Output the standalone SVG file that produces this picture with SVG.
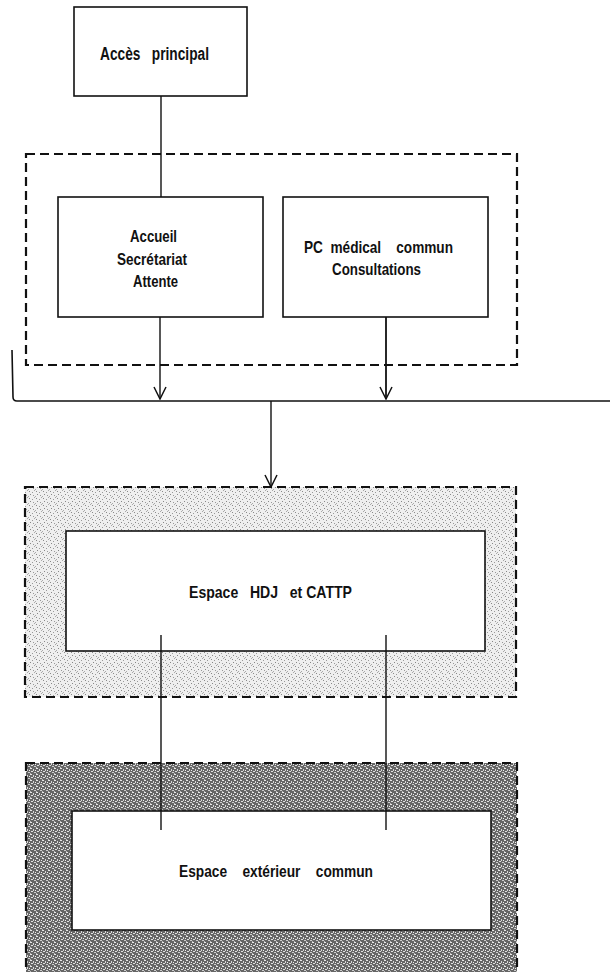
<svg xmlns="http://www.w3.org/2000/svg" width="610" height="972" viewBox="0 0 610 972">
  <style>
    .box { fill: #ffffff; stroke: #111; stroke-width: 1.6; }
    .dash { stroke: #111; stroke-width: 2.2; stroke-dasharray: 9 5; }
    .lbl { font-family: "Liberation Sans", Arial, sans-serif; font-size: 17px; font-weight: bold; fill: #111; text-anchor: middle; white-space: pre; }
    .con { fill: none; stroke: #111; stroke-width: 1.4; }
  </style>
  <defs>
    <marker id="arr" viewBox="0 0 14 14" refX="13" refY="7" markerWidth="14" markerHeight="14" markerUnits="userSpaceOnUse" orient="auto">
      <path d="M1,1 L13,7 L1,13" fill="none" stroke="#111" stroke-width="1.5"/>
    </marker>
    <pattern id="light" width="7" height="7" patternUnits="userSpaceOnUse">
      <rect width="7" height="7" fill="#efefef"/>
      <rect x="1" y="1" width="1" height="1" fill="#8a8a8a"/>
      <rect x="4" y="2" width="1" height="1" fill="#9a9a9a"/>
      <rect x="2" y="4" width="1" height="1" fill="#888"/>
      <rect x="5" y="5" width="1" height="1" fill="#999"/>
      <rect x="6" y="0" width="1" height="1" fill="#aaa"/>
      <rect x="0" y="6" width="1" height="1" fill="#aaa"/>
    </pattern>
    <pattern id="dark" width="6" height="6" patternUnits="userSpaceOnUse">
      <rect width="6" height="6" fill="#666"/>
      <rect x="0" y="0" width="2" height="1" fill="#e8e8e8"/>
      <rect x="3" y="1" width="1" height="2" fill="#d8d8d8"/>
      <rect x="1" y="3" width="2" height="1" fill="#e0e0e0"/>
      <rect x="4" y="4" width="2" height="1" fill="#cfcfcf"/>
      <rect x="5" y="2" width="1" height="1" fill="#f0f0f0"/>
      <rect x="0" y="5" width="1" height="1" fill="#bbb"/>
    </pattern>
  </defs>

  <rect width="610" height="972" fill="#ffffff"/>

  <!-- Containers -->
  <g id="zone-accueil">
    <rect class="dash" x="26" y="154" width="491" height="211" fill="none"/>
  </g>
  <g id="zone-hdj">
    <rect class="dash" x="25" y="487" width="491" height="210" fill="url(#light)"/>
  </g>
  <g id="zone-exterieur">
    <rect class="dash" x="26" y="763" width="491" height="220" fill="url(#dark)"/>
  </g>

  <!-- Nodes -->
  <g id="acces-principal">
    <rect class="box" x="74" y="7" width="173" height="89"/>
    <text class="lbl" x="154.5" y="60" textLength="109" lengthAdjust="spacingAndGlyphs" style="font-size:18px">Accès   principal</text>
  </g>
  <g id="accueil">
    <rect class="box" x="58" y="197" width="205" height="120"/>
    <text class="lbl" x="153.5" y="242" textLength="47" lengthAdjust="spacingAndGlyphs">Accueil</text>
    <text class="lbl" x="152" y="265" textLength="70" lengthAdjust="spacingAndGlyphs">Secrétariat</text>
    <text class="lbl" x="155.5" y="287" textLength="45" lengthAdjust="spacingAndGlyphs">Attente</text>
  </g>
  <g id="pc-medical">
    <rect class="box" x="283" y="197" width="205" height="120"/>
    <text class="lbl" x="378.5" y="253" textLength="149" lengthAdjust="spacingAndGlyphs">PC  médical    commun</text>
    <text class="lbl" x="376.5" y="275" textLength="89" lengthAdjust="spacingAndGlyphs">Consultations</text>
  </g>
  <g id="espace-hdj">
    <rect class="box" x="66" y="531" width="419" height="120"/>
    <text class="lbl" x="270.5" y="598" textLength="163" lengthAdjust="spacingAndGlyphs">Espace   HDJ   et CATTP</text>
  </g>
  <g id="espace-exterieur">
    <rect class="box" x="72" y="811" width="419" height="119"/>
    <text class="lbl" x="276" y="877" textLength="194" lengthAdjust="spacingAndGlyphs">Espace    extérieur    commun</text>
  </g>

  <!-- Connectors -->
  <g id="connectors">
    <path class="con" d="M161,96 V197"/>
    <path class="con" d="M160,317 V399" marker-end="url(#arr)"/>
    <path class="con" d="M386,317 V399" marker-end="url(#arr)" style="stroke-width:1.8"/>
    <path class="con" d="M12,350 L13,397 Q13,401 17,401 L610,401" style="stroke-width:1.6"/>
    <path class="con" d="M271,401 V487" marker-end="url(#arr)"/>
    <path class="con" d="M161,635 V830"/>
    <path class="con" d="M386,635 V830"/>
  </g>
</svg>
